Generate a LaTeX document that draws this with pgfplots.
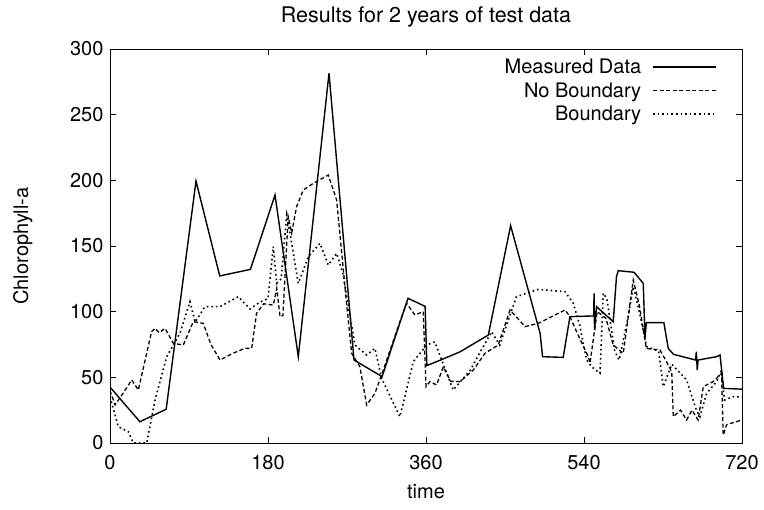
\documentclass[border=0pt]{standalone}
\usepackage{fontspec}
\setmainfont{TeX Gyre Heros}
\usepackage{pgfplots}
\pgfplotsset{compat=1.18}
\begin{document}
\begin{tikzpicture}
\path[use as bounding box] (0,0) rectangle (764bp,510bp);
\begin{axis}[
  at={(110bp,67bp)}, anchor=south west,
  width=632bp, height=394bp, scale only axis,
  xmin=0, xmax=720, ymin=0, ymax=300,
  xtick={0,180,360,540,720}, ytick={0,50,100,150,200,250,300},
  tick align=inside, major tick length=6bp,
  axis line style={line width=0.9bp},
  tick style={line width=0.9bp, black},
  /pgf/number format/assume math mode=true,
  tick label style={font=\fontsize{20bp}{24bp}\selectfont},
  xticklabel style={yshift=-9bp},
  yticklabel style={xshift=-3bp},
  label style={font=\fontsize{20bp}{24bp}\selectfont},
  title style={font=\fontsize{21.5bp}{25bp}\selectfont, at={(0.5,1.066)}, anchor=center, yshift=0pt},
  title={Results for 2 years of test data},
  xlabel={time}, ylabel={Chlorophyll-a},
  xlabel style={at={(axis description cs:0.5,-0.124)}, anchor=center},
  ylabel style={at={(axis description cs:-0.138,0.5)}, anchor=center},
  legend plot pos=right,
  legend cell align=right,
  legend style={draw=none, fill=none, at={(0.9605,0.98)}, anchor=north east,
    font=\fontsize{20bp}{24bp}\selectfont, row sep=3.5bp, column sep=9bp, inner sep=0pt},
  legend image code/.code={\draw[#1] (0bp,0bp) -- (63bp,0bp);},
]
\addplot[black, line width=1.4bp] coordinates {
(0,42.6) (34,16.2) (64,25.7) (98,199.5) (125,127.2) (160,132.2) (188,188.8)
(214.5,65.7) (249.5,281.5) (278,63.2) (310,50.5) (339.5,110.2) (359,104)
(361,59) (376,63) (399,69.5) (431,82.2) (456.4,165.5) (490,83.5) (492.8,65.7)
(516.3,65.2) (524,96.2) (548.7,96.7) (551,96.7) (551.5,114) (552,86) (554.3,103.8)
(573.3,92.4) (577,126.6) (579,131.2) (597,130) (607.5,121.6) (609.5,80) (611,91.6)
(631,91.6) (636,72) (642,67.5) (667,63.2) (668,69.5) (669,55.6) (670,63.2)
(691,65.7) (695,67) (699,41.6) (720,41)
};
\addlegendentry{Measured Data}
\addplot[black, line width=1.3bp, dash pattern=on 4bp off 2.5bp] coordinates {
(0,40) (5.7,29) (14,37) (24.7,48) (32.3,40.4) (47.4,84.8) (51.3,87.3) (56,84)
(62.7,87.3) (72.1,75.9) (83.5,74.6) (94.9,92.4) (106.3,91.1) (115,75) (125.3,63.2)
(140,68.3) (153.8,72.1) (161.4,72) (167,98.7) (175,106) (186,105) (190,117.8)
(193.7,96.2) (197,97) (203,172.3) (207,160) (212.6,180) (220.2,192.6) (231.6,197.7)
(248.7,204) (258.2,185) (269.5,106.4) (275.3,68.3) (284.7,58.1) (292.4,28.9)
(301.8,37.8) (309.4,51.8) (330.3,92.4) (337.9,106.4) (347.4,97.5) (356.9,100)
(360,42.9) (364.5,46.7) (372.1,44.2) (379.7,58.1) (388,47) (398.7,46.7) (413.9,55.6)
(427.2,68.3) (442.3,74.6) (455.7,101.3) (467,93) (472.8,88.6) (487.9,91.1)
(518.4,101.3) (524,96.2) (531.6,84.7) (544.9,65.7) (546.8,60.7) (555,100) (565,95)
(573.3,74.6) (584.7,68.3) (596.1,124.1) (603,105) (611,72) (626.5,70.8) (634,62)
(640,54) (641.7,20) (650,25) (656.9,17.5) (663,25) (670,17.5) (675.9,42.9)
(687,46.7) (696.7,53.1) (698.6,6) (702.5,14) (720,17.5)
};
\addlegendentry{No Boundary}
\addplot[black, line width=1.6bp, dash pattern=on 1.6bp off 3bp] coordinates {
(0,35) (9.5,12.4) (20.9,8.6) (26.6,0) (41.8,0) (51.3,32.7) (64.6,65.7) (79.7,83.5)
(91.1,107.6) (97,92) (108.2,103.8) (125.3,103.8) (146.2,111.4) (159.5,102) (170,107)
(180,110) (186,149.5) (189.9,121.6) (195,125) (201.3,173.6) (205,160) (214.5,121.6)
(225.9,141.8) (239.2,152) (248.7,135.5) (258.2,144.4) (265,130) (279.1,74.6)
(292.4,67) (301.8,72.1) (309.4,49.3) (330.3,20) (345.5,61.9) (360.8,74.6) (370,77)
(391,40.4) (410,55) (434.7,84.7) (444,74.6) (463,111.4) (487.9,117) (518.4,115.2)
(527.8,106.4) (535,90) (543,63.2) (548.7,58.1) (558.2,53.1) (562,114) (566,110)
(575,70) (580,63.2) (590,95) (596.1,119) (603,100) (611.4,73.3) (625,70) (630.3,42.9)
(640,60) (656.9,48) (668,25) (672.1,20) (679.7,37.8) (691,46.7) (696.7,55.6)
(700,32.7) (710,35.3) (720,35)
};
\addlegendentry{Boundary}
\end{axis}
\end{tikzpicture}
\end{document}
